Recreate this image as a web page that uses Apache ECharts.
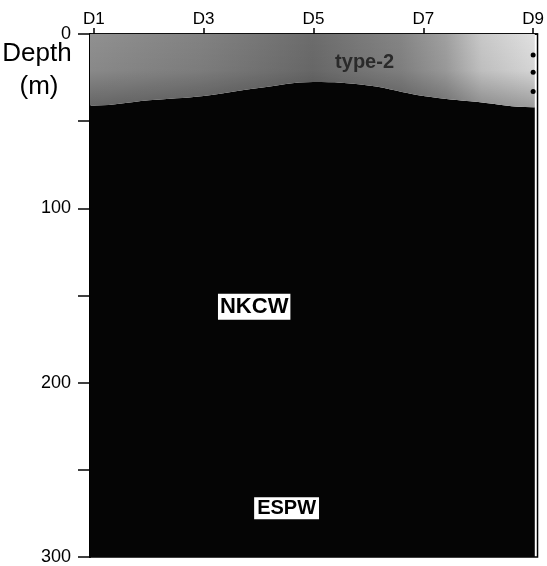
<!DOCTYPE html>
<html>
<head>
<meta charset="utf-8">
<script src="https://cdn.jsdelivr.net/npm/echarts@6/dist/echarts.min.js"></script>
<style>
  html, body { margin: 0; padding: 0; background: #fff; }
  #chart { width: 547px; height: 566px; }
</style>
</head>
<body>
<div id="chart"></div>
<script>
// Stations along the section (x position = station number)
const stationNames = ['D1', 'D2', 'D3', 'D4', 'D5', 'D6', 'D7', 'D8', 'D9'];
const stationPos = [1, 2, 3, 4, 5, 6, 7, 8, 9];
const labelledStations = [1, 3, 5, 7, 9];

// Depth (m) of the lower boundary of the surface layer at each station
const boundaryDepth = [41, 38, 35.5, 31, 27.5, 29.5, 35.5, 39, 42];

// Sampling depths marked at station D9
const sampleStation = [9, 9, 9];
const sampleDepth = [12, 22, 33];

// Depth axis ticks
const depthTicks = [0, 100, 200, 300];

// Water-mass labels
const massNames = ['NKCW', 'ESPW'];
const massStation = [3.92, 4.51];
const massDepth = [156.5, 272];
const massFontSize = [22, 20];
const layerName = 'type-2';
const layerStation = 5.93;
const layerDepth = 16.6;

const X_MIN = 0.93, X_MAX = 9.08, X_END = 9.03;
const FONT = '"Liberation Sans", Arial, Helvetica, sans-serif';

// Boundary profile, carried flat out to the section edges
const profile = [[X_MIN, boundaryDepth[0]]]
  .concat(stationPos.map((s, i) => [s, boundaryDepth[i]]))
  .concat([[X_END, boundaryDepth[boundaryDepth.length - 1]]]);

const chart = echarts.init(document.getElementById('chart'), null, { renderer: 'canvas' });

// one text label placed at a (station, depth) position
function textSeries(station, depth, text, label) {
  return {
    type: 'scatter', symbolSize: 0, silent: true,
    data: [[station, depth]],
    itemStyle: { color: 'rgba(0,0,0,0)', opacity: 1 },
    label: Object.assign({
      show: true, position: 'inside', formatter: () => text, fontFamily: FONT
    }, label),
    z: 6
  };
}

chart.setOption({
  animation: false,
  backgroundColor: '#ffffff',
  grid: {
    left: 90, right: 5, top: 34, bottom: 8,
    show: true, backgroundColor: '#ffffff',
    borderColor: '#000', borderWidth: 1.5
  },
  xAxis: {
    type: 'value', position: 'top', min: X_MIN, max: X_MAX,
    axisLine: { show: true, lineStyle: { color: '#000', width: 1.5 } },
    axisTick: { show: true, length: 6, lineStyle: { color: '#000', width: 1.5 },
                customValues: labelledStations },
    axisLabel: {
      customValues: labelledStations,
      formatter: v => stationNames[stationPos.indexOf(Math.round(v))],
      color: '#000', fontSize: 17, fontFamily: FONT, margin: 6
    },
    splitLine: { show: false }
  },
  yAxis: {
    type: 'value', inverse: true, min: 0, max: 300, interval: 100,
    axisLine: { show: true, lineStyle: { color: '#000', width: 2 } },
    axisTick: { show: true, length: 12, lineStyle: { color: '#000', width: 1.5 } },
    minorTick: { show: true, splitNumber: 2, length: 12, lineStyle: { color: '#000', width: 1.5 } },
    axisLabel: {
      formatter: v => depthTicks.includes(v) ? String(v) : '',
      color: '#000', fontSize: 18, fontFamily: FONT, margin: 19
    },
    splitLine: { show: false }
  },
  graphic: [
    { type: 'text', x: 37, y: 54,
      style: { text: 'Depth', fill: '#000', font: '26px ' + FONT, textAlign: 'center', textVerticalAlign: 'middle' } },
    { type: 'text', x: 39, y: 87,
      style: { text: '(m)', fill: '#000', font: '26px ' + FONT, textAlign: 'center', textVerticalAlign: 'middle' } }
  ],
  series: [
    {
      // deep water below the surface layer
      type: 'line', data: profile, smooth: 0.4, symbol: 'none',
      lineStyle: { width: 0 },
      areaStyle: { origin: 'end', color: '#050505', opacity: 1 },
      z: 2
    },
    {
      // surface layer (type-2), lighter toward the eastern end
      type: 'line', data: profile, smooth: 0.4, symbol: 'none',
      lineStyle: { width: 0 },
      areaStyle: {
        origin: 'start', opacity: 1,
        color: {
          type: 'linear', x: 0, y: 0, x2: 1, y2: 0,
          colorStops: [
            { offset: 0, color: '#909090' },
            { offset: 0.25, color: '#828282' },
            { offset: 0.5, color: '#6c6c6c' },
            { offset: 0.7, color: '#858585' },
            { offset: 0.8, color: '#a0a0a0' },
            { offset: 0.88, color: '#c8c8c8' },
            { offset: 1, color: '#e0e0e0' }
          ]
        }
      },
      z: 3
    },
    {
      // darker shading of the surface layer toward its base
      type: 'line', data: profile, smooth: 0.4, symbol: 'none',
      lineStyle: { width: 0 },
      areaStyle: {
        origin: 'start', opacity: 1,
        color: {
          type: 'linear', x: 0, y: 0, x2: 0, y2: 1,
          colorStops: [
            { offset: 0, color: 'rgba(0,0,0,0)' },
            { offset: 0.5, color: 'rgba(0,0,0,0.05)' },
            { offset: 1, color: 'rgba(0,0,0,0.3)' }
          ]
        }
      },
      z: 4
    },
    {
      type: 'scatter', symbol: 'circle', symbolSize: 5, silent: true,
      data: sampleStation.map((s, i) => [s, sampleDepth[i]]),
      itemStyle: { color: '#000', opacity: 1 }, z: 5
    },
    textSeries(layerStation, layerDepth, layerName,
      { color: '#2a2a2a', fontSize: 20, fontWeight: 'bold' }),
    textSeries(massStation[0], massDepth[0], massNames[0],
      { color: '#000', fontSize: massFontSize[0], fontWeight: 'bold', backgroundColor: '#fff', padding: [2, 2] }),
    textSeries(massStation[1], massDepth[1], massNames[1],
      { color: '#000', fontSize: massFontSize[1], fontWeight: 'bold', backgroundColor: '#fff', padding: [1, 3] })
  ]
});
</script>
</body>
</html>
